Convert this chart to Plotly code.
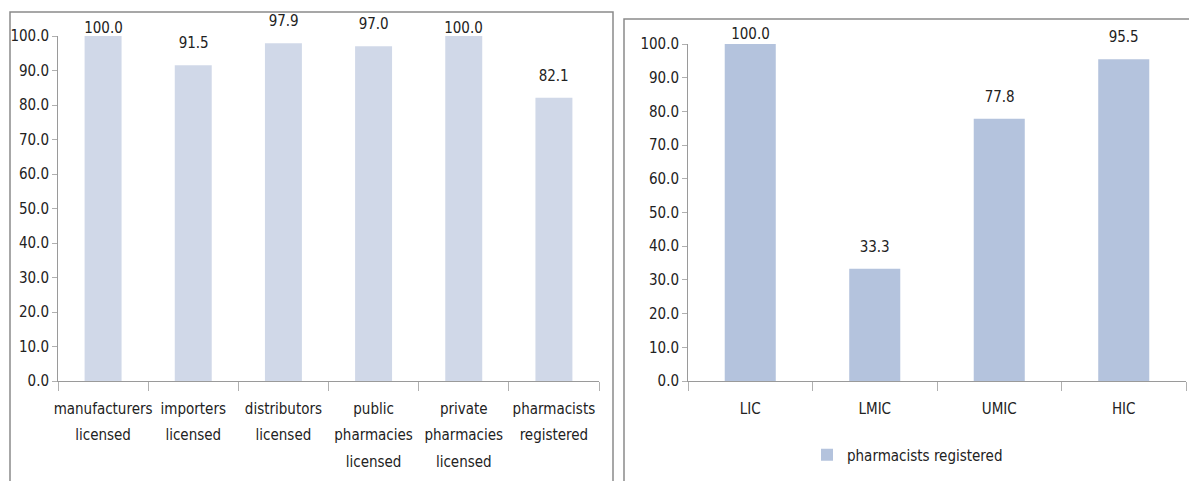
import plotly.graph_objects as go

# Data
left_categories = ["manufacturers<br>licensed", "importers<br>licensed", "distributors<br>licensed",
                   "public<br>pharmacies<br>licensed", "private<br>pharmacies<br>licensed",
                   "pharmacists<br>registered"]
left_values = [100.0, 91.5, 97.9, 97.0, 100.0, 82.1]

right_categories = ["LIC", "LMIC", "UMIC", "HIC"]
right_values = [100.0, 33.3, 77.8, 95.5]
right_series_name = "pharmacists registered"

y_tickvals = [0, 10, 20, 30, 40, 50, 60, 70, 80, 90, 100]

W, H = 1189, 481
FONT = "DejaVu Sans, sans-serif"
LEFT_COLOR = "#D0D8E8"
RIGHT_COLOR = "#B4C3DD"


def px_x(x):
    return x / W


def px_y(y):
    return 1 - y / H


def font(size):
    return dict(family=FONT, size=size, color="#222")


fig = go.Figure()

fig.add_trace(go.Bar(x=left_categories, y=left_values, marker_color=LEFT_COLOR,
                     width=0.41, xaxis="x", yaxis="y", showlegend=False,
                     hoverinfo="x+y"))
fig.add_trace(go.Bar(x=right_categories, y=right_values, marker_color=RIGHT_COLOR,
                     width=0.41, xaxis="x2", yaxis="y2", name=right_series_name,
                     showlegend=True))

annotations = []
for c, v in zip(left_categories, left_values):
    annotations.append(dict(x=c, y=v, xref="x", yref="y", text=f"{v:.1f}", showarrow=False,
                            yanchor="bottom", yshift=11 if v < 100 else -3,
                            font=font(15)))
for c, v in zip(right_categories, right_values):
    annotations.append(dict(x=c, y=v, xref="x2", yref="y2", text=f"{v:.1f}", showarrow=False,
                            yanchor="bottom", yshift=11 if v < 100 else -1,
                            font=font(15)))

axis_common = dict(showgrid=False, zeroline=False, showline=True, linecolor="#9a9a9a",
                   linewidth=1, ticks="outside", tickcolor="#b0b0b0", automargin=False,
                   tickfont=font(15))

fig.update_layout(
    template="none",
    width=W, height=H,
    margin=dict(l=0, r=0, t=0, b=0, autoexpand=False),
    paper_bgcolor="white", plot_bgcolor="white",
    font=font(15),
    xaxis=dict(domain=[px_x(58), px_x(599)], anchor="y", type="category",
               tickson="boundaries", ticklen=9, tickangle=0, ticklabelstandoff=14,
               **axis_common),
    yaxis=dict(domain=[px_y(381), px_y(36)], anchor="x", range=[0, 100],
               tickvals=y_tickvals, tickformat=".1f", ticklen=5, **axis_common),
    xaxis2=dict(domain=[px_x(688), px_x(1186)], anchor="y2", type="category",
                tickson="boundaries", ticklen=9, tickangle=0, ticklabelstandoff=14,
                **axis_common),
    yaxis2=dict(domain=[px_y(381), px_y(44)], anchor="x2", range=[0, 100],
                tickvals=y_tickvals, tickformat=".1f", ticklen=5, **axis_common),
    legend=dict(orientation="h", x=px_x(916), xanchor="center", y=px_y(455), yanchor="middle",
                font=font(15), itemwidth=30,
                bgcolor="rgba(0,0,0,0)"),
    annotations=annotations,
    shapes=[
        dict(type="rect", xref="paper", yref="paper", x0=px_x(10), x1=px_x(613),
             y0=-0.05, y1=px_y(12), line=dict(color="#8a8a8a", width=1.5), layer="below"),
        dict(type="rect", xref="paper", yref="paper", x0=px_x(624), x1=1.05,
             y0=-0.05, y1=px_y(19), line=dict(color="#8a8a8a", width=1.5), layer="below"),
    ],
)

# Remove default page margin; condensed face for Calibri-like narrow lettering;
# wider line spacing for the multi-line category labels.
post_js = """
document.body.style.margin = '0';
var gd = document.getElementsByClassName('plotly-graph-div')[0];
function condense(){
  gd.querySelectorAll('text').forEach(function(t){ t.style.fontStretch = 'condensed'; });
  gd.querySelectorAll('.xtick text tspan.line, .x2tick text tspan.line').forEach(function(s){
    if (s.getAttribute('data-spaced')) { return; }
    var dy = s.getAttribute('dy');
    if (dy && parseFloat(dy) > 0) {
      s.setAttribute('dy', (parseFloat(dy) * 1.75 / 1.3).toFixed(3) + 'em');
    }
    s.setAttribute('data-spaced', '1');
  });
}
condense();
gd.on('plotly_afterplot', condense);
"""

fig.write_html("out.html", post_script=post_js, config={"displayModeBar": False})
